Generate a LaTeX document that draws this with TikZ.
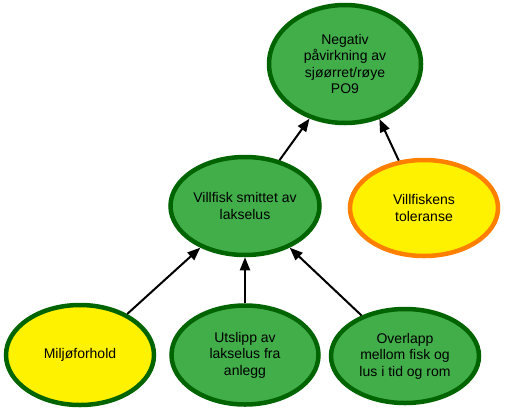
\documentclass[tikz,border=0pt]{standalone}
\usepackage{fontspec}
\setmainfont{Liberation Sans}
\usetikzlibrary{shapes.geometric,arrows.meta}
\definecolor{gfill}{RGB}{66,174,74}
\definecolor{gborder}{RGB}{0,100,0}
\definecolor{yfill}{RGB}{255,242,0}
\definecolor{oborder}{RGB}{255,128,0}
\tikzset{
  ell/.style={ellipse, line width=4.5pt, inner sep=0pt, align=center,
    font=\fontsize{14}{16.5}\selectfont, text=black},
  greenell/.style={ell, draw=gborder, fill=gfill},
  yellowell/.style={ell, draw=gborder, fill=yfill},
  orangeell/.style={ell, draw=oborder, fill=yfill},
  arr/.style={line width=2pt, -{Triangle[length=13pt,width=10pt]}}
}
\begin{document}
\begin{tikzpicture}[x=1pt,y=-1pt]
\useasboundingbox (0,0) rectangle (505,413);
\node[greenell, minimum width=152pt, minimum height=118pt] (top) at (345,64)
  {Negativ\\påvirkning av\\sjøørret/røye\\PO9};
\node[greenell, minimum width=149pt, minimum height=98pt] (vs) at (245,206)
  {Villfisk smittet av\\lakselus};
\node[orangeell, minimum width=148pt, minimum height=96pt] (vt) at (424,208)
  {Villfiskens\\toleranse};
\node[yellowell, minimum width=148pt, minimum height=100pt] (mf) at (80,355)
  {Miljøforhold};
\node[greenell, minimum width=147pt, minimum height=99pt] (ut) at (245,355)
  {Utslipp av\\lakselus fra\\anlegg};
\node[greenell, minimum width=148pt, minimum height=94pt] (ov) at (405,356)
  {Overlapp\\mellom fisk og\\lus i tid og rom};
\draw[arr] (vs.53) -- (top.237);
\draw[arr] (vt.118) -- (top.302);
\draw[arr] (mf.41) -- (vs.223);
\draw[arr] (ut.90) -- (vs.270);
\draw[arr] (ov.137) -- (vs.317);
\end{tikzpicture}
\end{document}
